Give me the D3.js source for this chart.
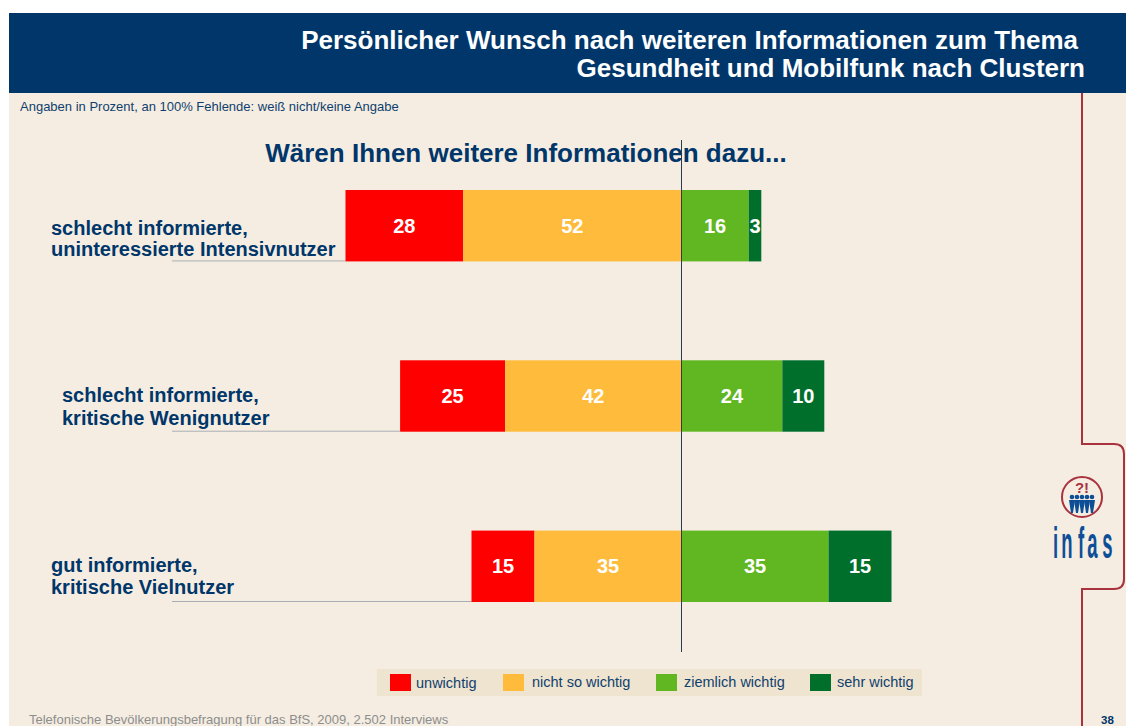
<!DOCTYPE html>
<html><head><meta charset="utf-8">
<style>html,body{margin:0;padding:0;background:#fff;overflow:hidden}svg{display:block}text{font-family:"Liberation Sans",Arial,sans-serif}</style>
<script src="https://cdn.jsdelivr.net/npm/d3@7/dist/d3.min.js"></script></head><body>
<svg id="c" width="1126" height="726"></svg>
<script>
const categories=[["schlecht informierte,","uninteressierte Intensivnutzer"],["schlecht informierte,","kritische Wenignutzer"],["gut informierte,","kritische Vielnutzer"]];
const seriesNames=["unwichtig","nicht so wichtig","ziemlich wichtig","sehr wichtig"];
const unwichtig=[28,25,15];
const nichtSoWichtig=[52,42,35];
const ziemlichWichtig=[16,24,35];
const sehrWichtig=[3,10,15];
const colors=["#ff0000","#ffbb3b","#60b722","#006f2c"];
const navy="#003669", textBlue="#0f3f6e", wine="#a8333f";

const svg=d3.select("#c");
svg.append("rect").attr("x",9).attr("y",13).attr("width",1117).attr("height",713).attr("fill","#f5ede2");
svg.append("rect").attr("x",9).attr("y",13).attr("width",1117).attr("height",80).attr("fill",navy);
const T=(x,y,s,size,o={})=>svg.append("text").attr("x",x).attr("y",y).text(s).attr("font-size",size)
  .attr("font-weight",o.w||"normal").attr("fill",o.c||textBlue).attr("text-anchor",o.a||"start");
T(1078,49,"Persönlicher Wunsch nach weiteren Informationen zum Thema",26,{w:"bold",c:"#fff",a:"end"});
T(1085,77,"Gesundheit und Mobilfunk nach Clustern",26,{w:"bold",c:"#fff",a:"end"});
T(20,111,"Angaben in Prozent, an 100% Fehlende: weiß nicht/keine Angabe",13);
T(526,162,"Wären Ihnen weitere Informationen dazu...",26,{w:"bold",c:navy,a:"middle"});

// wine bracket
svg.append("path").attr("fill","none").attr("stroke",wine).attr("stroke-width",2)
  .attr("d","M1082,93V444H1114Q1124,444 1124,454V579Q1124,589 1114,589H1082V726");

const x=d3.scaleLinear().domain([0,100]).range([681.5,1101.5]);
const y=d3.scaleBand().domain([0,1,2]).range([190,602]).paddingInner(99/170.5).paddingOuter(0);

// leader lines
categories.forEach((c,i)=>{
  const left=x(-(unwichtig[i]+nichtSoWichtig[i]));
  svg.append("line").attr("x1",172).attr("x2",left).attr("y1",y(i)+y.bandwidth()-0.5).attr("y2",y(i)+y.bandwidth()-0.5)
    .attr("stroke","#a9aeb4").attr("stroke-width",1);
});

// bars
const rows=categories.map((c,i)=>[
  {v:unwichtig[i],x0:-(unwichtig[i]+nichtSoWichtig[i]),k:0},
  {v:nichtSoWichtig[i],x0:-nichtSoWichtig[i],k:1},
  {v:ziemlichWichtig[i],x0:0,k:2},
  {v:sehrWichtig[i],x0:ziemlichWichtig[i],k:3}]);
const g=svg.selectAll("g.row").data(rows).join("g").attr("class","row");
g.selectAll("rect").data((d,i)=>d.map(e=>({...e,i}))).join("rect")
  .attr("x",d=>x(d.x0)).attr("y",d=>y(d.i)).attr("width",d=>x(d.x0+d.v)-x(d.x0)).attr("height",y.bandwidth()).attr("fill",d=>colors[d.k]);
g.selectAll("text").data((d,i)=>d.map(e=>({...e,i}))).join("text")
  .attr("x",d=>(x(d.x0)+x(d.x0+d.v))/2).attr("y",d=>y(d.i)+y.bandwidth()/2+7).attr("text-anchor","middle")
  .attr("font-size",20).attr("font-weight","bold").attr("fill","#fff").text(d=>d.v);

// centre line
svg.append("line").attr("x1",681.5).attr("x2",681.5).attr("y1",140).attr("y2",652).attr("stroke","#2a3c50").attr("stroke-width",1);

// category labels
const labelX=[51,62,51], labelY=[[235,256],[402,425],[572,594]];
categories.forEach((c,i)=>c.forEach((s,j)=>T(labelX[i],labelY[i][j],s,20,{w:"bold",c:navy})));

// legend
svg.append("rect").attr("x",377).attr("y",669).attr("width",545).attr("height",27).attr("fill","#efe4cf");
seriesNames.forEach((s,i)=>{
  svg.append("rect").attr("x",[390,503,656,810][i]).attr("y",674).attr("width",21).attr("height",17).attr("fill",colors[i]);
  T([416,532,684,837][i],i===0?688:687,s,14.5);
});

// footer
T(29,724,"Telefonische Bevölkerungsbefragung für das BfS, 2009, 2.502 Interviews",13,{c:"#8d8d8d"});
T(1101,724,"38",11.5,{w:"bold",c:navy});

// logo
svg.append("circle").attr("cx",1082).attr("cy",497).attr("r",20).attr("fill","none").attr("stroke",wine).attr("stroke-width",2);
T(1082,493,"?!",15,{w:"bold",c:wine,a:"middle"});
[1072,1077,1082,1087,1092].forEach(h=>{
  svg.append("circle").attr("cx",h).attr("cy",497).attr("r",2.3).attr("fill","#0d4f96");
  svg.append("path").attr("d",`M${h-3},500L${h+3},500L${h+1},513L${h-1},513Z`).attr("fill","#0d4f96");
});
[["i",1055.5],["n",1067],["f",1081],["a",1092.5],["s",1107.5]].forEach(([s,lx])=>{
  svg.append("text").attr("text-anchor","middle").attr("font-size",44).attr("fill","#0d4f96").attr("font-weight","bold")
    .attr("transform",`translate(${lx},558) scale(0.42,1)`).text(s);
});
</script></body></html>
